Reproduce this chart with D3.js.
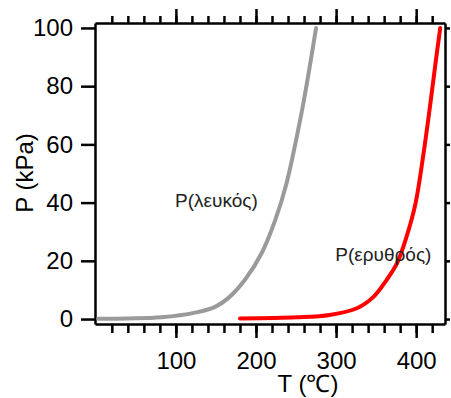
<!DOCTYPE html>
<html>
<head>
<meta charset="utf-8">
<script src="https://cdn.jsdelivr.net/npm/d3@7"></script>
<style>
  body { margin: 0; background: #fff; }
  svg { display: block; font-family: "Liberation Sans", Arial, sans-serif; }
  .axis path, .axis line { stroke: #000; stroke-width: 2.5; }
  .axis text { font-size: 24px; fill: #000; }
</style>
</head>
<body>
<svg width="451" height="398"></svg>
<script>
// vapour pressure
const whiteT = [3, 40, 82, 124, 149, 165, 186, 207, 224, 238, 257, 267, 275];
const whiteP = [0.1, 0.2, 0.6, 2.2, 4.2, 7.1, 13.4, 22.6, 34, 46.5, 71, 86.5, 100];
const redT = [180, 251, 292, 326, 347, 363, 376, 388, 399, 409, 417, 424, 430];
const redP = [0.2, 0.6, 1.4, 3.7, 7.7, 13.4, 19.1, 28.3, 39.5, 56.5, 72.5, 87.5, 100];
const xTicks = [100, 200, 300, 400];
const xMinor = d3.range(20, 436, 20);
const yTicks = [0, 20, 40, 60, 80, 100];
const labels = ["P(λευκός)", "P(ερυθρός)"];

const margin = { top: 23, left: 95, right: 6, bottom: 74 };
const width = 451 - margin.left - margin.right;
const height = 398 - margin.top - margin.bottom;

const svg = d3.select("svg");
const g = svg.append("g").attr("transform", `translate(${margin.left},${margin.top})`);

const x = d3.scaleLinear().domain([-1, 436]).range([0, width]);
const y = d3.scaleLinear().domain([-1.7, 101.7]).range([height, 0]);

// minor ticks first, then the major axes on top
g.append("g").attr("class", "axis").attr("transform", `translate(0,${height})`)
  .call(d3.axisBottom(x).tickValues(xMinor).tickSize(9).tickFormat(""))
  .call(a => a.select(".domain").remove());
g.append("g").attr("class", "axis")
  .call(d3.axisTop(x).tickValues(xMinor).tickSize(7).tickFormat(""))
  .call(a => a.select(".domain").remove());

g.append("g").attr("class", "axis").attr("transform", `translate(0,${height})`)
  .call(d3.axisBottom(x).tickValues(xTicks).tickSize(14).tickSizeOuter(0).tickPadding(14));
g.append("g").attr("class", "axis")
  .call(d3.axisTop(x).tickValues(xTicks).tickSize(14).tickSizeOuter(0).tickFormat(""));
g.append("g").attr("class", "axis")
  .call(d3.axisLeft(y).tickValues(yTicks).tickSize(14).tickSizeOuter(0).tickPadding(8));
g.append("g").attr("class", "axis").attr("transform", `translate(${width},0)`)
  .call(d3.axisRight(y).tickValues(yTicks).tickSize(5).tickSizeOuter(0).tickFormat(""));

const line = d3.line()
  .x(d => x(d[0]))
  .y(d => y(d[1]))
  .curve(d3.curveCatmullRom.alpha(0.5));

g.append("path")
  .datum(d3.zip(whiteT, whiteP))
  .attr("d", line)
  .attr("fill", "none")
  .attr("stroke", "#9a9a9a")
  .attr("stroke-width", 4)
  .attr("stroke-linecap", "round");

g.append("path")
  .datum(d3.zip(redT, redP))
  .attr("d", line)
  .attr("fill", "none")
  .attr("stroke", "#ff0000")
  .attr("stroke-width", 4)
  .attr("stroke-linecap", "round");

// curve labels
g.append("text").attr("x", x(99)).attr("y", y(38.6))
  .attr("font-size", 19).attr("fill", "#222").text(labels[0]);
g.append("text").attr("x", x(299)).attr("y", y(19.8))
  .attr("font-size", 19).attr("fill", "#222").text(labels[1]);

// axis titles
svg.append("text")
  .attr("x", margin.left + x(265))
  .attr("y", 392)
  .attr("text-anchor", "middle")
  .attr("font-size", 24)
  .text("T (℃)");

svg.append("text")
  .attr("transform", `translate(33,173) rotate(-90)`)
  .attr("text-anchor", "middle")
  .attr("font-size", 24)
  .text("P (kPa)");
</script>
</body>
</html>
